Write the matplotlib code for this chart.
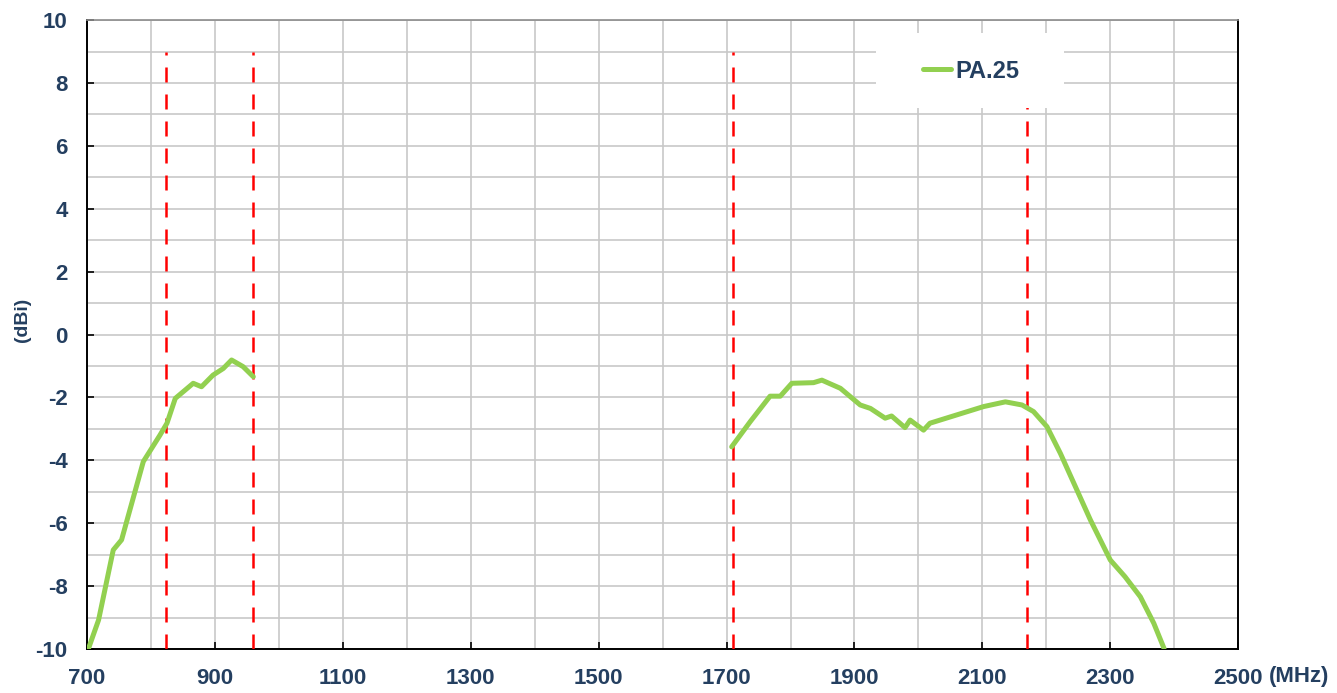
import numpy as np
import matplotlib.pyplot as plt
from matplotlib.ticker import MultipleLocator, FixedLocator
from matplotlib.patches import Rectangle

plt.rcParams['axes.unicode_minus'] = False

# gain curve, low band (MHz, dBi)
low_freq = [702, 718, 741, 754, 788, 814, 825, 838, 866, 879, 897, 913, 926, 944, 960]
low_gain = [-10.0, -9.08, -6.85, -6.53, -4.04, -3.2, -2.82, -2.03, -1.55, -1.66, -1.29, -1.08, -0.81, -1.02, -1.34]

# gain curve, high band (MHz, dBi)
high_freq = [1708, 1737, 1768, 1784, 1802, 1836, 1849, 1878, 1909, 1925, 1948, 1958, 1979, 1987,
             2008, 2018, 2102, 2136, 2162, 2180, 2201, 2222, 2269, 2300, 2323, 2347, 2368, 2384]
high_gain = [-3.57, -2.77, -1.96, -1.96, -1.55, -1.53, -1.45, -1.71, -2.24, -2.35, -2.66, -2.59, -2.96, -2.72,
             -3.04, -2.82, -2.29, -2.14, -2.24, -2.45, -2.93, -3.78, -5.9, -7.17, -7.70, -8.34, -9.18, -9.98]

# band edge markers
band_edges = [824, 960, 1710, 2170]

x_ticks = [700, 900, 1100, 1300, 1500, 1700, 1900, 2100, 2300, 2500]

txt_color = '#243F60'
green = '#92D050'
font = ['Liberation Sans Narrow', 'Liberation Sans', 'DejaVu Sans']

fig = plt.figure(figsize=(13.37, 6.93), dpi=100)
ax = fig.add_axes([0.0651, 0.0635, 0.861, 0.9075])

ax.set_xlim(700, 2500)
ax.set_ylim(-10, 10)
ax.xaxis.set_major_locator(FixedLocator(x_ticks))
ax.xaxis.set_minor_locator(MultipleLocator(100))
ax.yaxis.set_major_locator(MultipleLocator(2))
ax.yaxis.set_minor_locator(MultipleLocator(1))
ax.grid(which='both', color='#C8C8C8', linewidth=1.2, zorder=0)
ax.set_axisbelow(True)

ax.tick_params(which='major', direction='in', length=5, width=1.2, color='black',
               labelsize=16, labelcolor=txt_color, pad=14)
ax.tick_params(which='minor', length=0)
for lab in ax.get_xticklabels() + ax.get_yticklabels():
    lab.set_family(font)
    lab.set_fontweight('bold')

for s in ['left', 'bottom', 'right']:
    ax.spines[s].set_color('black')
    ax.spines[s].set_linewidth(1.4)
ax.spines['top'].set_color('#8C8C8C')
ax.spines['top'].set_linewidth(1.2)

ax.vlines(band_edges, -10, 9, colors='#FF0000', linestyles=(0, (6, 4.8)), linewidth=1.8, zorder=3)

ax.plot(low_freq, low_gain, color=green, linewidth=3.6, solid_capstyle='round',
        solid_joinstyle='round', zorder=4, label='PA.25')
ax.plot(high_freq, high_gain, color=green, linewidth=3.6, solid_capstyle='round',
        solid_joinstyle='round', zorder=4)

# white panel behind the legend
ax.add_patch(Rectangle((0.685, 0.86), 0.164, 0.119, transform=ax.transAxes,
                       facecolor='white', edgecolor='none', zorder=5))
leg = ax.legend(loc='center', bbox_to_anchor=(0.768, 0.919), frameon=False,
                handlelength=1.2, handletextpad=0.2,
                prop={'family': font, 'weight': 'bold', 'size': 17})
leg.set_zorder(6)
for t in leg.get_texts():
    t.set_color(txt_color)

fig.text(0.949, 0.024, '(MHz)', ha='left', va='center', fontsize=16, fontweight='bold',
         color=txt_color, family=font)
fig.text(0.017, 0.538, '(dBi)', ha='center', va='center', rotation=90, fontsize=14,
         fontweight='bold', color=txt_color, family=font)

fig.savefig('out.png', dpi=100)
